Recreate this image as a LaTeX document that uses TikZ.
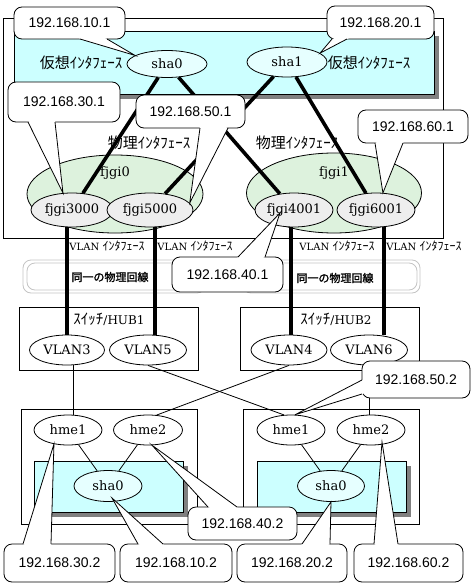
\documentclass[tikz,border=0pt]{standalone}
\usepackage{fontspec}
\setmainfont{DejaVu Serif}
\newfontfamily\ipfont{Liberation Sans}
\newfontfamily\jpfont{Noto Sans CJK JP}
\newfontfamily\jpboldfont[FakeBold=1.5]{Noto Sans CJK JP}
\usepackage{tikz}
\usetikzlibrary{shapes.geometric}
\usetikzlibrary{calc}

\definecolor{vcyan}{HTML}{CCFFFF}
\definecolor{shacyan}{HTML}{E6FFFF}
\definecolor{fjgreen}{HTML}{DDF2DD}
\definecolor{fjgray}{HTML}{EEEEEE}
\definecolor{shadegray}{HTML}{808080}
\definecolor{cablegray}{HTML}{C4C4C4}

% #1 name, #2 #3 box corners, #4 #5 foot of the pointer, #6 tip, #7 text
\newcommand{\callout}[7]{%
  \filldraw[balloon] (#2) rectangle (#3);
  \fill[white] (#4) -- (#6) -- (#5) -- ($(#2)!0.5!(#3)$) -- cycle;
  \draw[wire] (#4) -- (#6) -- (#5);
  \node[iptext] (#1) at ($(#2)!0.5!(#3)$) {#7};
}

\begin{document}
\begin{tikzpicture}[x=1pt, y=-1pt,
    wire/.style={line width=0.8pt},
    trunk/.style={line width=3.6pt},
    hostbox/.style={draw, line width=0.8pt, fill=white},
    vbox/.style={draw, line width=0.8pt, fill=vcyan},
    cable/.style={draw=cablegray, line width=0.8pt, rounded corners=8pt},
    balloon/.style={draw, line width=0.8pt, fill=white, rounded corners=8pt},
    nic/.style={ellipse, draw, line width=0.8pt, fill=white, inner sep=0pt,
      font=\fontsize{13}{15}\selectfont},
    iptext/.style={inner sep=0pt, font=\ipfont\fontsize{14}{16}\selectfont},
    jplabel/.style={inner sep=0pt, font=\jpfont\fontsize{15}{17}\selectfont},
    linelabel/.style={inner sep=0pt, font=\jpboldfont\fontsize{11}{13}\selectfont},
    iflabel/.style={inner sep=0pt, font=\fontsize{10}{12}\selectfont}]
    \def\vlanif{VLAN {\jpfont\fontsize{12}{14}\selectfont ｲﾝﾀﾌｪｰｽ}}

    \useasboundingbox (0,0) rectangle (473,586);
    \fill[white] (0,0) rectangle (473,586);

    % server with the virtual interfaces
    \draw[hostbox] (3,18) rectangle (443,238);
    \fill[shadegray] (19,36) rectangle (439,99);
    \draw[vbox] (14,31) rectangle (434,94);
    \node[jplabel] at (81,63) {仮想ｲﾝﾀﾌｪｰｽ};
    \node[jplabel] at (369,63) {仮想ｲﾝﾀﾌｪｰｽ};
    \node[jplabel] at (149,143) {物理ｲﾝﾀﾌｪｰｽ};
    \node[jplabel] at (297,143) {物理ｲﾝﾀﾌｪｰｽ};

    \node[nic, fill=fjgreen, minimum width=176, minimum height=78] (fjgi0) at (115,194) {};
    \node[nic, fill=fjgreen, minimum width=175, minimum height=80] (fjgi1) at (334,193) {};
    \node[iflabel, font=\fontsize{13}{15}\selectfont] at ($(fjgi0)+(0,-21)$) {fjgi0};
    \node[iflabel, font=\fontsize{13}{15}\selectfont] at ($(fjgi1)+(0,-20)$) {fjgi1};

    \node[nic, fill=fjgray, minimum width=82, minimum height=34] (fjgi3000) at (72,210) {fjgi3000};
    \node[nic, fill=fjgray, minimum width=86, minimum height=34] (fjgi5000) at (150,210) {fjgi5000};
    \node[nic, fill=fjgray, minimum width=78, minimum height=34] (fjgi4001) at (294,210) {fjgi4001};
    \node[nic, fill=fjgray, minimum width=78, minimum height=34] (fjgi6001) at (376,210) {fjgi6001};

    \node[nic, fill=shacyan, minimum width=80, minimum height=27] (vsha0) at (167,64) {sha0};
    \node[nic, fill=shacyan, minimum width=80, minimum height=30] (vsha1) at (287,62) {sha1};

    \draw[trunk] (vsha0) -- (fjgi3000);
    \draw[trunk] (vsha0) -- (fjgi4001);
    \draw[trunk] (vsha1) -- (fjgi5000);
    \draw[trunk] (vsha1) -- (fjgi6001);

    % the one physical line
    \draw[cable] (23,260) rectangle (205,293);
    \draw[cable] (27,263) rectangle (205,290);
    \draw[cable] (243,260) rectangle (420,293);
    \draw[cable] (246,263) rectangle (417,290);
    \node[linelabel] at (110,277) {同一の物理回線};
    \node[linelabel] at (335,278) {同一の物理回線};

    \node[iflabel] at (107,246) {\vlanif};
    \node[iflabel] at (195,246) {\vlanif};
    \node[iflabel] at (337,246) {\vlanif};
    \node[iflabel] at (424,246) {\vlanif};

    % switches
    \draw[hostbox] (19,307) rectangle (198,370);
    \draw[hostbox] (240,307) rectangle (419,370);
    \node[iflabel, font=\fontsize{12}{14}\selectfont] at (109,319) {{\jpfont\fontsize{15}{15}\selectfont ｽｲｯﾁ}/HUB1};
    \node[iflabel, font=\fontsize{12}{14}\selectfont] at (336,319) {{\jpfont\fontsize{15}{15}\selectfont ｽｲｯﾁ}/HUB2};

    \node[nic, minimum width=75, minimum height=30] (vlan3) at (67,350) {VLAN3};
    \node[nic, minimum width=77, minimum height=30] (vlan5) at (148,350) {VLAN5};
    \node[nic, minimum width=76, minimum height=30] (vlan4) at (289,350) {VLAN4};
    \node[nic, minimum width=77, minimum height=30] (vlan6) at (369,350) {VLAN6};

    \coordinate (t3) at (67,0);
    \coordinate (t5) at (155,0);
    \coordinate (t4) at (291,0);
    \coordinate (t6) at (384,0);
    \foreach \fj/\vl/\t in {fjgi3000/vlan3/t3, fjgi5000/vlan5/t5, fjgi4001/vlan4/t4, fjgi6001/vlan6/t6}
        \draw[trunk] (\fj.south -| \t) -- (\vl.north -| \t);

    % the two other hosts
    \draw[hostbox] (21,409) rectangle (197,524);
    \fill[shadegray] (39,466) rectangle (188,517);
    \draw[vbox] (34,461) rectangle (183,512);
    \draw[hostbox] (243,409) rectangle (419,524);
    \fill[shadegray] (262,466) rectangle (411,517);
    \draw[vbox] (257,461) rectangle (406,512);

    \node[nic, minimum width=68, minimum height=30] (hmeA1) at (68,430) {hme1};
    \node[nic, minimum width=69, minimum height=30] (hmeA2) at (148,430) {hme2};
    \node[nic, fill=shacyan, minimum width=68, minimum height=31] (shaA) at (108,486) {sha0};
    \node[nic, minimum width=68, minimum height=30] (hmeB1) at (291,430) {hme1};
    \node[nic, minimum width=68, minimum height=30] (hmeB2) at (371,430) {hme2};
    \node[nic, fill=shacyan, minimum width=67, minimum height=31] (shaB) at (331,486) {sha0};

    \coordinate (a3) at (73,0);
    \draw[wire] (vlan3.south -| a3) -- (hmeA1.north -| a3);
    \draw[wire] (vlan5.south) -- (hmeB1.115);
    \draw[wire] (vlan4.south) -- (hmeA2.60);
    \draw[wire] (vlan6.south) -- (vlan6.south |- hmeB2.north);

    \draw[wire] (hmeA1) -- (shaA);
    \draw[wire] (hmeA2) -- (shaA);
    \draw[wire] (hmeB1) -- (shaB);
    \draw[wire] (hmeB2) -- (shaB);

    % addresses
    \callout{ip101}{14,7}{125,39}{80,39}{107,39}{vsha0.165}{192.168.10.1}
    \callout{ip201}{327,6}{434,39}{332,39}{347,39}{vsha1.15}{192.168.20.1}
    \callout{ip301}{8,82}{120,122}{28,122}{55,122}{fjgi3000.118}{192.168.30.1}
    \callout{ip501}{136,95}{245,128}{200,128}{228,128}{fjgi5000.10}{192.168.50.1}
    \callout{ip601}{358,110}{468,143}{375,143}{403,143}{fjgi6001.68}{192.168.60.1}
    \callout{ip401}{172,257}{283,292}{238,257}{265,257}{$(fjgi4001)+(-14,3)$}{192.168.40.1}
    \callout{ip502}{362,361}{470,398}{362,380}{362,394}{hmeB1.75}{192.168.50.2}
    \callout{ip302}{4,544}{115,582}{23,544}{51,544}{hmeA1.225}{192.168.30.2}
    \callout{ip102}{120,544}{232,582}{138,544}{163,544}{$(shaA)+(4,12)$}{192.168.10.2}
    \callout{ip402}{188,507}{297,540}{208,507}{237,507}{hmeA2.285}{192.168.40.2}
    \callout{ip202}{237,544}{347,582}{302,544}{330,544}{shaB.south}{192.168.20.2}
    \callout{ip602}{354,544}{463,582}{374,544}{398,544}{$(hmeB2)+(11,12)$}{192.168.60.2}
\end{tikzpicture}
\end{document}
